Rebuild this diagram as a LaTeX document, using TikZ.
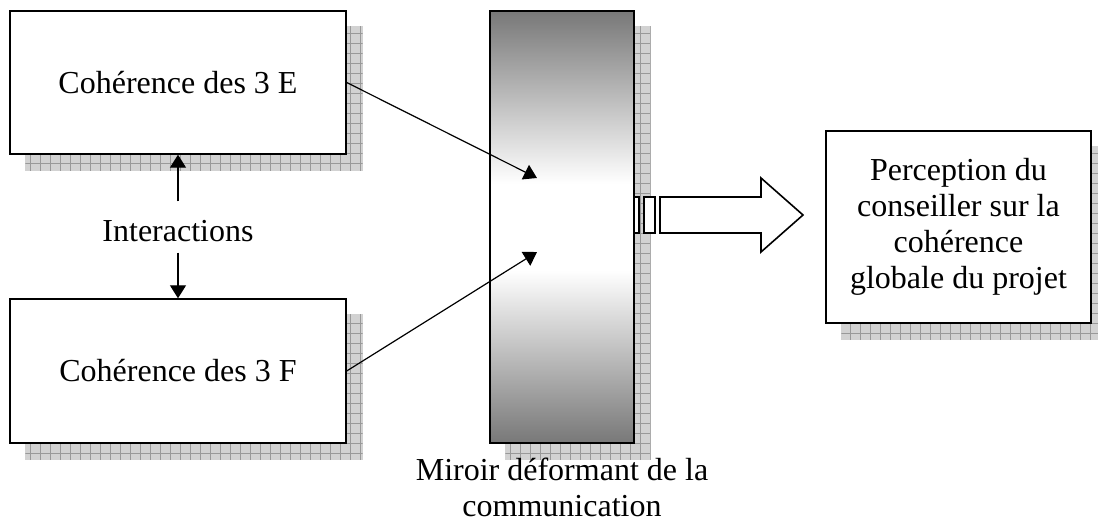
\documentclass[tikz,border=0pt]{standalone}
\usepackage{fontspec}
\setmainfont{Liberation Serif}
\usetikzlibrary{arrows.meta, positioning, backgrounds, calc, patterns.meta}

% dégradé du miroir : sombre aux bords, blanc au milieu
\pgfdeclareverticalshading{miroirdeg}{100bp}{color(0bp)=(black!53); color(25bp)=(black!53); color(45bp)=(white); color(55bp)=(white); color(75bp)=(black!53); color(100bp)=(black!53)}

\tikzset{
  box/.style={draw, line width=0.7pt, fill=white, align=center, inner sep=0pt},
  ombre/.style={fill=gray!35, postaction={pattern={Hatch[distance=5pt, angle=0, line width=0.35pt]}, pattern color=black!40}},
  fleche/.style={-{Triangle[length=6.5pt, width=8pt]}, line width=0.6pt},
}
% ombre portée sous un noeud
\newcommand{\ombrede}[1]{\fill[ombre] ($(#1.north west)+(16,16)$) rectangle ($(#1.south east)+(16,16)$);}

\begin{document}
\begin{tikzpicture}[x=0.5pt, y=-0.5pt, every node/.style={font=\fontsize{16}{18}\selectfont}]
  \useasboundingbox (0,0) rectangle (1098,523);

  % ================= boîtes de gauche =================
  \node[box, minimum width=168pt, minimum height=71.5pt] (coh3E) at (178,82.5) {Cohérence des 3 E};
  \node[box, minimum width=168pt, minimum height=72pt] (coh3F) at (178,371) {Cohérence des 3 F};
  \node[anchor=base, inner sep=0pt] (inter) at (178,242) {Interactions};

  % ================= miroir =================
  \node[draw, line width=0.7pt, minimum width=72pt, minimum height=216pt,
        shade, shading=miroirdeg] (miroir) at (562,227) {};
  \node[below=7pt of miroir, align=center, inner sep=0pt] (legende) {Miroir déformant de la\\communication};

  % ================= perception =================
  \node[box, minimum width=132.5pt, minimum height=96pt] (percep) at (958.5,227)
    {Perception du\\conseiller sur la\\cohérence\\globale du projet};

  % ombres
  \begin{scope}[on background layer]
    \ombrede{coh3E}
    \ombrede{coh3F}
    \ombrede{miroir}
    \ombrede{percep}
  \end{scope}

  % flèches vers le miroir
  \coordinate (cibleE) at (537,178);
  \coordinate (cibleF) at (537,252);
  \draw[fleche] (coh3E.east) -- (cibleE);
  \draw[fleche] (coh3F.east) -- (cibleF);

  % interactions
  \draw[fleche, shorten <=9.5pt] (inter.north) -- (coh3E.south);
  \draw[fleche, shorten <=5pt] (inter.south) -- (coh3F.north);

  % grosse flèche
  \draw[line width=0.8pt, fill=white] (634,197) rectangle (639,233);
  \draw[line width=0.8pt, fill=white] (644,197) rectangle (655,233);
  \draw[line width=0.8pt, fill=white] (660,197) -- (761,197) -- (761,178) -- (803,215)
    -- (761,252) -- (761,233) -- (660,233) -- cycle;
\end{tikzpicture}
\end{document}
